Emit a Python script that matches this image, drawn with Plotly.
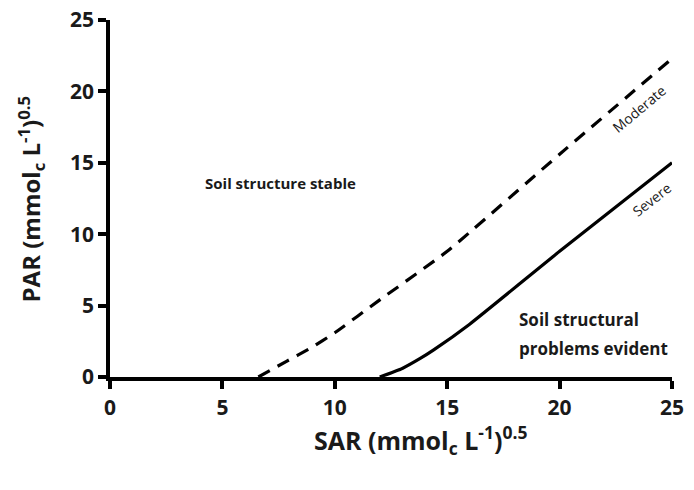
import plotly.graph_objects as go

moderate_x = [6.6, 7.85, 8.9, 10.0, 12.0, 15.0, 20.0, 25.0]
moderate_y = [0.0, 1.1, 2.0, 3.1, 5.4, 8.8, 15.6, 22.3]
severe_x = [12.0, 13.0, 13.8, 14.4, 16.0, 20.0, 25.0]
severe_y = [0.0, 0.6, 1.3, 1.9, 3.7, 8.8, 15.0]
x_ticks = [0, 5, 10, 15, 20, 25]
y_ticks = [0, 5, 10, 15, 20, 25]

FONT = "Open Sans"
INK = "#1a1a1a"

fig = go.Figure()
fig.add_trace(go.Scatter(x=moderate_x, y=moderate_y, mode="lines",
                         line=dict(color="black", width=3.2, dash="13px,9px", shape="spline", smoothing=0.4),
                         cliponaxis=False, showlegend=False))
fig.add_trace(go.Scatter(x=severe_x, y=severe_y, mode="lines",
                         line=dict(color="black", width=3.2, shape="spline", smoothing=0.4),
                         cliponaxis=False, showlegend=False))

axis_common = dict(range=[0, 25], showgrid=False, zeroline=False, automargin=False,
                   showline=True, linecolor="black", linewidth=3.5,
                   ticks="outside", ticklen=8, tickwidth=3.5, tickcolor="black",
                   tickfont=dict(size=21, family=FONT, weight="bold", color=INK))

PLOT_H = 490 - 20 - 113
PLOT_W = 694 - 110 - 22

fig.update_layout(
    template="none",
    width=694, height=490,
    margin=dict(l=110, r=22, t=20, b=113),
    paper_bgcolor="white", plot_bgcolor="white",
    font=dict(family=FONT, color=INK),
    xaxis=dict(tickvals=x_ticks, ticklabelstandoff=1, **axis_common),
    yaxis=dict(tickvals=y_ticks, ticklabelstandoff=0, **axis_common),
)

fig.add_annotation(xref="paper", yref="paper", x=(420 - 110) / PLOT_W, y=-63 / PLOT_H,
                   xanchor="center", yanchor="middle",
                   text="SAR (mmol<sub>c</sub> L<sup>-1</sup>)<sup>0.5</sup>", showarrow=False,
                   font=dict(size=25, family=FONT, weight="bold", color=INK))
fig.add_annotation(xref="paper", yref="paper", x=-80 / PLOT_W, y=0.5, xanchor="center", yanchor="middle",
                   textangle=-90,
                   text="PAR (mmol<sub>c</sub> L<sup>-1</sup>)<sup>0.5</sup>", showarrow=False,
                   font=dict(size=24, family=FONT, weight="bold", color=INK))

fig.add_annotation(x=7.6, y=13.6, text="Soil structure stable", showarrow=False,
                   font=dict(size=15, family=FONT, weight="bold", color=INK))
fig.add_annotation(x=18.1, y=4.0, text="Soil structural", showarrow=False,
                   xanchor="left", font=dict(size=17, family=FONT, weight="bold", color=INK))
fig.add_annotation(x=18.1, y=2.0, text="problems evident", showarrow=False,
                   xanchor="left", font=dict(size=17, family=FONT, weight="bold", color=INK))
fig.add_annotation(x=23.55, y=18.8, text="Moderate", showarrow=False, textangle=-40,
                   font=dict(size=14, family=FONT, color=INK))
fig.add_annotation(x=24.1, y=12.4, text="Severe", showarrow=False, textangle=-38,
                   font=dict(size=14, family=FONT, color=INK))

fig.write_html("out.html", config={"displayModeBar": False},
               post_script="document.body.style.margin='0';")
